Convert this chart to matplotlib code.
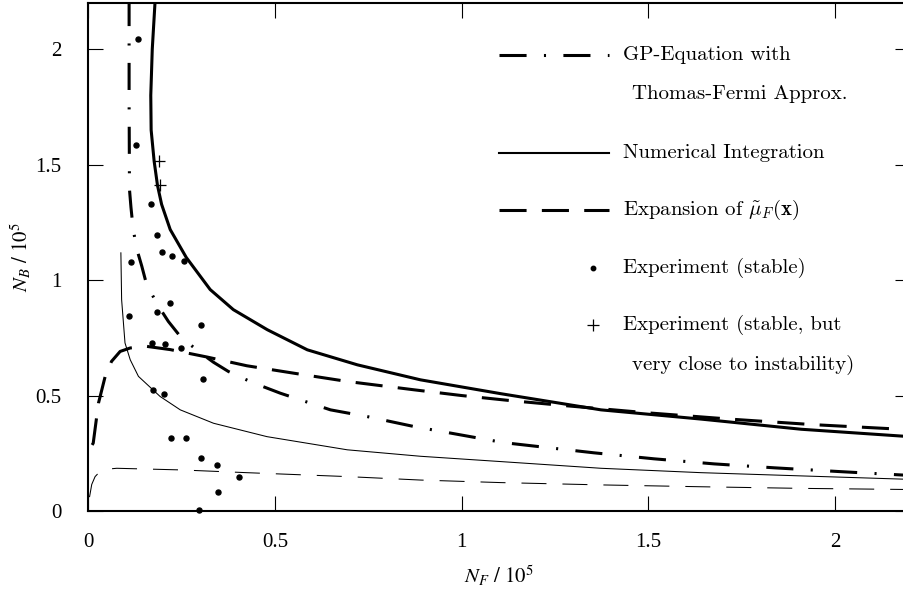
import matplotlib
matplotlib.use("Agg")
import matplotlib.pyplot as plt

plt.rcParams["lines.scale_dashes"] = False
plt.rcParams["font.family"] = "Liberation Serif"

# Numerical integration (thick solid)
num_x = [0.180, 0.172, 0.168, 0.169, 0.177, 0.186, 0.197, 0.220, 0.263, 0.327, 0.389,
         0.480, 0.587, 0.721, 0.890, 1.105, 1.373, 1.641, 1.909, 2.20]
num_y = [2.22, 2.00, 1.80, 1.65, 1.515, 1.41, 1.328, 1.219, 1.098, 0.959, 0.872,
         0.785, 0.698, 0.633, 0.568, 0.508, 0.438, 0.398, 0.354, 0.322]

# Numerical integration (thin solid)
num2_x = [0.088, 0.090, 0.099, 0.113, 0.135, 0.193, 0.247, 0.336, 0.479, 0.694, 0.890,
          1.105, 1.373, 1.641, 1.909, 2.20]
num2_y = [1.118, 0.915, 0.728, 0.655, 0.583, 0.496, 0.438, 0.380, 0.322, 0.265, 0.237,
          0.214, 0.185, 0.166, 0.152, 0.137]

# Expansion of mu_F (thick dashed)
exp_x = [0.011, 0.014, 0.028, 0.046, 0.063, 0.086, 0.113, 0.157, 0.220, 0.318, 0.425,
         0.550, 0.694, 0.872, 1.0, 1.131, 1.279, 1.499, 1.718, 1.941, 2.20]
exp_y = [0.286, 0.294, 0.467, 0.583, 0.648, 0.691, 0.706, 0.713, 0.699, 0.667, 0.629,
         0.597, 0.561, 0.525, 0.50, 0.478, 0.456, 0.425, 0.398, 0.374, 0.352]

# Expansion of mu_F (thin dashed)
exp2_x = [0.004, 0.010, 0.019, 0.032, 0.050, 0.077, 0.247, 0.425, 0.694, 0.890, 1.105,
          1.373, 1.641, 1.909, 2.20]
exp2_y = [0.060, 0.115, 0.149, 0.171, 0.181, 0.185, 0.178, 0.166, 0.149, 0.134, 0.123,
          0.113, 0.105, 0.098, 0.093]

# GP equation with Thomas-Fermi approx. (dash-dot)
gp_x = [0.110, 0.110, 0.111, 0.115, 0.121, 0.131, 0.144, 0.157, 0.189, 0.215, 0.247,
        0.296, 0.336, 0.376, 0.439, 0.515, 0.649, 0.747, 0.872, 1.113, 1.354, 1.515,
        1.676, 1.837, 2.008, 2.20]
gp_y = [2.22, 1.783, 1.393, 1.315, 1.219, 1.132, 1.06, 0.98, 0.886, 0.821, 0.756,
        0.691, 0.644, 0.604, 0.557, 0.51, 0.438, 0.409, 0.366, 0.296, 0.252, 0.226,
        0.204, 0.187, 0.171, 0.154]

# Experiment (stable)
stable_x = [0.133, 0.129, 0.169, 0.184, 0.199, 0.224, 0.257, 0.114, 0.220, 0.184, 0.111,
            0.302, 0.172, 0.207, 0.249, 0.308, 0.175, 0.204, 0.222, 0.263, 0.303, 0.345,
            0.405, 0.347, 0.296]
stable_y = [2.043, 1.585, 1.328, 1.197, 1.122, 1.103, 1.082, 1.077, 0.901, 0.860, 0.846,
            0.806, 0.729, 0.722, 0.708, 0.571, 0.522, 0.505, 0.317, 0.317, 0.229, 0.200,
            0.146, 0.082, 0.004]

# Experiment (stable, but very close to instability)
close_x = [0.190, 0.193]
close_y = [1.515, 1.41]

ticks = [0, 0.5, 1, 1.5, 2]
tick_labels = ["0", "0.5", "1", "1.5", "2"]

legend_lines = [
    ["GP-Equation with", "Thomas-Fermi Approx."],
    ["Numerical Integration"],
    [r"Expansion of $\tilde{\mu}_F(\mathbf{x})$"],
    ["Experiment (stable)"],
    ["Experiment (stable, but", "very close to instability)"],
]

dashdot = (0, (19.5, 12.5, 1.5, 12.5))
dashed = (0, (19.5, 11))
thin_dashed = (0, (18, 11.5))

fig = plt.figure(figsize=(9.04, 5.92), dpi=100)
ax = fig.add_axes([88 / 904, 81 / 592, 822 / 904, 508 / 592])

ax.plot(gp_x, gp_y, color="black", lw=2.2, linestyle=dashdot)
ax.plot(num_x, num_y, color="black", lw=2.2)
ax.plot(num2_x, num2_y, color="black", lw=0.75)
ax.plot(exp_x, exp_y, color="black", lw=2.2, linestyle=dashed)
ax.plot(exp2_x, exp2_y, color="black", lw=0.75, linestyle=thin_dashed)
ax.plot(stable_x, stable_y, "o", color="black", ms=3.6, clip_on=False)
ax.plot(close_x, close_y, "+", color="black", ms=8, mew=0.9)

ax.set_xlim(0, 2.2)
ax.set_ylim(0, 2.2)
ax.set_xticks(ticks)
ax.set_xticklabels(tick_labels)
ax.set_yticks(ticks)
ax.set_yticklabels(tick_labels)
ax.tick_params(direction="in", length=11, width=0.8, top=True, right=True,
               labelsize=15)
ax.tick_params(axis="x", pad=16)
ax.tick_params(axis="y", pad=19)
for s in ax.spines.values():
    s.set_linewidth(1.5)

ax.set_xlabel(r"$N_F\ /\ 10^5$", fontsize=15, math_fontfamily="stix")
ax.set_ylabel(r"$N_B\ /\ 10^5$", fontsize=15, math_fontfamily="stix")
ax.xaxis.set_label_coords(0.5, -0.104)
ax.yaxis.set_label_coords(-0.066, 0.5)

## Legend drawn by hand
row_y = [0.898, 0.705, 0.593, 0.478, 0.366]
styles = [dict(lw=2.2, linestyle=dashdot), dict(lw=1.5), dict(lw=2.2, linestyle=dashed)]
for i, lines in enumerate(legend_lines):
    y = row_y[i]
    if i < 3:
        ax.plot([0.500, 0.634], [y, y], transform=ax.transAxes, color="black",
                **styles[i])
    elif i == 3:
        ax.plot([0.614], [y], "o", ms=3.2, color="black", transform=ax.transAxes)
    else:
        ax.plot([0.614], [y], "+", ms=8, mew=0.9, color="black", transform=ax.transAxes)
    for j, txt in enumerate(lines):
        ax.text(0.651 + 0.011 * j, y - 0.078 * j, txt, transform=ax.transAxes,
                va="center", ha="left", fontsize=15, fontfamily="cmr10",
                math_fontfamily="cm")

fig.savefig("out.png", dpi=100)
